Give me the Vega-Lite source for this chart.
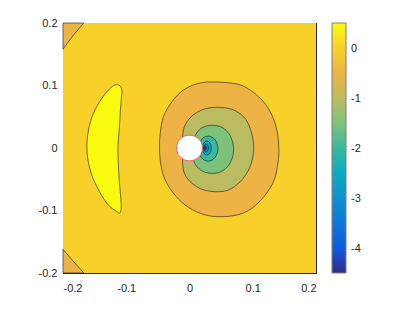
{
  "$schema": "https://vega.github.io/schema/vega-lite/v6.json",
  "width": 253,
  "height": 250,
  "autosize": {"type": "none"},
  "padding": {"left": 63, "top": 23, "right": 95, "bottom": 36},
  "background": "white",
  "config": {
    "view": {"stroke": "#262626", "strokeWidth": 1},
    "font": "Liberation Sans",
    "axis": {"grid": false, "domainColor": "#262626", "tickColor": "#262626", "labelColor": "#262626", "labelFontSize": 11, "labelFont": "Liberation Sans", "title": null},
    "legend": {"labelFont": "Liberation Sans"}
  },
  "datasets": {
    "bg": [
      {"i": 0, "x": -0.2, "y": -0.2, "v": 0},
      {"i": 1, "x": 0.2, "y": -0.2, "v": 0},
      {"i": 2, "x": 0.2, "y": 0.2, "v": 0},
      {"i": 3, "x": -0.2, "y": 0.2, "v": 0}
    ],
    "cornerTop": [
      {"i": 0, "x": -0.2, "y": 0.2, "v": -0.5},
      {"i": 1, "x": -0.167, "y": 0.2, "v": -0.5},
      {"i": 2, "x": -0.184, "y": 0.18, "v": -0.5},
      {"i": 3, "x": -0.2, "y": 0.158, "v": -0.5}
    ],
    "cornerBottom": [
      {"i": 0, "x": -0.2, "y": -0.2, "v": -0.5},
      {"i": 1, "x": -0.2, "y": -0.162, "v": -0.5},
      {"i": 2, "x": -0.184, "y": -0.181, "v": -0.5},
      {"i": 3, "x": -0.167, "y": -0.2, "v": -0.5}
    ],
    "crescent": [
      {"i": 0, "x": -0.1123, "y": 0.1008, "v": 0.5},
      {"i": 1, "x": -0.1069, "y": 0.0928, "v": 0.5},
      {"i": 2, "x": -0.1085, "y": 0.0715, "v": 0.5},
      {"i": 3, "x": -0.1111, "y": 0.0288, "v": 0.5},
      {"i": 4, "x": -0.1132, "y": -0.0032, "v": 0.5},
      {"i": 5, "x": -0.1111, "y": -0.0512, "v": 0.5},
      {"i": 6, "x": -0.108, "y": -0.0885, "v": 0.5},
      {"i": 7, "x": -0.1096, "y": -0.1035, "v": 0.5},
      {"i": 8, "x": -0.1148, "y": -0.1019, "v": 0.5},
      {"i": 9, "x": -0.1306, "y": -0.0885, "v": 0.5},
      {"i": 10, "x": -0.1464, "y": -0.0619, "v": 0.5},
      {"i": 11, "x": -0.157, "y": -0.0352, "v": 0.5},
      {"i": 12, "x": -0.1622, "y": -0.0032, "v": 0.5},
      {"i": 13, "x": -0.1597, "y": 0.0288, "v": 0.5},
      {"i": 14, "x": -0.1518, "y": 0.0555, "v": 0.5},
      {"i": 15, "x": -0.1385, "y": 0.0795, "v": 0.5},
      {"i": 16, "x": -0.1227, "y": 0.0981, "v": 0.5}
    ],
    "orange": [
      {"i": 0, "x": 0.0406, "y": 0.1056, "v": -0.5},
      {"i": 1, "x": 0.0749, "y": 0.1024, "v": -0.5},
      {"i": 2, "x": 0.096, "y": 0.0928, "v": -0.5},
      {"i": 3, "x": 0.117, "y": 0.0741, "v": -0.5},
      {"i": 4, "x": 0.1302, "y": 0.0528, "v": -0.5},
      {"i": 5, "x": 0.1381, "y": 0.0288, "v": -0.5},
      {"i": 6, "x": 0.1413, "y": -0.0005, "v": -0.5},
      {"i": 7, "x": 0.1397, "y": -0.0245, "v": -0.5},
      {"i": 8, "x": 0.1339, "y": -0.0512, "v": -0.5},
      {"i": 9, "x": 0.1197, "y": -0.0752, "v": -0.5},
      {"i": 10, "x": 0.0986, "y": -0.0965, "v": -0.5},
      {"i": 11, "x": 0.0749, "y": -0.1072, "v": -0.5},
      {"i": 12, "x": 0.0433, "y": -0.1099, "v": -0.5},
      {"i": 13, "x": 0.0169, "y": -0.1045, "v": -0.5},
      {"i": 14, "x": -0.0068, "y": -0.0912, "v": -0.5},
      {"i": 15, "x": -0.0253, "y": -0.0725, "v": -0.5},
      {"i": 16, "x": -0.0384, "y": -0.0512, "v": -0.5},
      {"i": 17, "x": -0.0447, "y": -0.0299, "v": -0.5},
      {"i": 18, "x": -0.0474, "y": -0.0032, "v": -0.5},
      {"i": 19, "x": -0.0463, "y": 0.0235, "v": -0.5},
      {"i": 20, "x": -0.0411, "y": 0.0501, "v": -0.5},
      {"i": 21, "x": -0.0278, "y": 0.0741, "v": -0.5},
      {"i": 22, "x": -0.0095, "y": 0.0928, "v": -0.5},
      {"i": 23, "x": 0.0142, "y": 0.1035, "v": -0.5}
    ],
    "olive": [
      {"i": 0, "x": 0.0433, "y": 0.0651, "v": -1},
      {"i": 1, "x": 0.067, "y": 0.0619, "v": -1},
      {"i": 2, "x": 0.0854, "y": 0.0501, "v": -1},
      {"i": 3, "x": 0.096, "y": 0.0315, "v": -1},
      {"i": 4, "x": 0.1012, "y": 0.0075, "v": -1},
      {"i": 5, "x": 0.1002, "y": -0.0139, "v": -1},
      {"i": 6, "x": 0.0933, "y": -0.0352, "v": -1},
      {"i": 7, "x": 0.0802, "y": -0.0539, "v": -1},
      {"i": 8, "x": 0.0617, "y": -0.0672, "v": -1},
      {"i": 9, "x": 0.0406, "y": -0.0699, "v": -1},
      {"i": 10, "x": 0.0196, "y": -0.0661, "v": -1},
      {"i": 11, "x": 0.0038, "y": -0.0565, "v": -1},
      {"i": 12, "x": -0.0068, "y": -0.0432, "v": -1},
      {"i": 13, "x": -0.0104, "y": -0.0299, "v": -1},
      {"i": 14, "x": -0.0111, "y": -0.0139, "v": -1},
      {"i": 15, "x": -0.0111, "y": 0.0075, "v": -1},
      {"i": 16, "x": -0.0104, "y": 0.0235, "v": -1},
      {"i": 17, "x": -0.0068, "y": 0.0368, "v": -1},
      {"i": 18, "x": 0.0038, "y": 0.0512, "v": -1},
      {"i": 19, "x": 0.0221, "y": 0.0619, "v": -1}
    ],
    "green": [
      {"i": 0, "x": 0.0354, "y": 0.0363, "v": -1.5},
      {"i": 1, "x": 0.0512, "y": 0.0331, "v": -1.5},
      {"i": 2, "x": 0.0628, "y": 0.0224, "v": -1.5},
      {"i": 3, "x": 0.0686, "y": 0.0075, "v": -1.5},
      {"i": 4, "x": 0.0696, "y": -0.0032, "v": -1.5},
      {"i": 5, "x": 0.0675, "y": -0.0165, "v": -1.5},
      {"i": 6, "x": 0.0601, "y": -0.0299, "v": -1.5},
      {"i": 7, "x": 0.0485, "y": -0.0384, "v": -1.5},
      {"i": 8, "x": 0.0354, "y": -0.0405, "v": -1.5},
      {"i": 9, "x": 0.0221, "y": -0.0379, "v": -1.5},
      {"i": 10, "x": 0.0117, "y": -0.0299, "v": -1.5},
      {"i": 11, "x": 0.0063, "y": -0.0192, "v": -1.5},
      {"i": 12, "x": 0.0047, "y": -0.0032, "v": -1.5},
      {"i": 13, "x": 0.0063, "y": 0.0128, "v": -1.5},
      {"i": 14, "x": 0.0117, "y": 0.0245, "v": -1.5},
      {"i": 15, "x": 0.0212, "y": 0.0331, "v": -1.5}
    ],
    "teal": [
      {"i": 0, "x": 0.0449, "y": -0.001, "v": -2},
      {"i": 1, "x": 0.0437, "y": 0.0067, "v": -2},
      {"i": 2, "x": 0.0404, "y": 0.0131, "v": -2},
      {"i": 3, "x": 0.0355, "y": 0.0175, "v": -2},
      {"i": 4, "x": 0.0296, "y": 0.019, "v": -2},
      {"i": 5, "x": 0.0237, "y": 0.0175, "v": -2},
      {"i": 6, "x": 0.0188, "y": 0.0131, "v": -2},
      {"i": 7, "x": 0.0155, "y": 0.0067, "v": -2},
      {"i": 8, "x": 0.0143, "y": -0.001, "v": -2},
      {"i": 9, "x": 0.0155, "y": -0.0087, "v": -2},
      {"i": 10, "x": 0.0188, "y": -0.0151, "v": -2},
      {"i": 11, "x": 0.0237, "y": -0.0195, "v": -2},
      {"i": 12, "x": 0.0296, "y": -0.021, "v": -2},
      {"i": 13, "x": 0.0355, "y": -0.0195, "v": -2},
      {"i": 14, "x": 0.0404, "y": -0.0151, "v": -2},
      {"i": 15, "x": 0.0437, "y": -0.0087, "v": -2}
    ],
    "ring25": [
      {"i": 0, "x": 0.0344, "y": 0, "v": -2.5},
      {"i": 1, "x": 0.0335, "y": 0.0056, "v": -2.5},
      {"i": 2, "x": 0.031, "y": 0.0097, "v": -2.5},
      {"i": 3, "x": 0.0275, "y": 0.0112, "v": -2.5},
      {"i": 4, "x": 0.024, "y": 0.0097, "v": -2.5},
      {"i": 5, "x": 0.0215, "y": 0.0056, "v": -2.5},
      {"i": 6, "x": 0.0206, "y": 0, "v": -2.5},
      {"i": 7, "x": 0.0215, "y": -0.0056, "v": -2.5},
      {"i": 8, "x": 0.024, "y": -0.0097, "v": -2.5},
      {"i": 9, "x": 0.0275, "y": -0.0112, "v": -2.5},
      {"i": 10, "x": 0.031, "y": -0.0097, "v": -2.5},
      {"i": 11, "x": 0.0335, "y": -0.0056, "v": -2.5}
    ],
    "ring3": [
      {"i": 0, "x": 0.03, "y": 0, "v": -3},
      {"i": 1, "x": 0.0295, "y": 0.003, "v": -3},
      {"i": 2, "x": 0.028, "y": 0.0052, "v": -3},
      {"i": 3, "x": 0.026, "y": 0.006, "v": -3},
      {"i": 4, "x": 0.024, "y": 0.0052, "v": -3},
      {"i": 5, "x": 0.0225, "y": 0.003, "v": -3},
      {"i": 6, "x": 0.022, "y": 0, "v": -3},
      {"i": 7, "x": 0.0225, "y": -0.003, "v": -3},
      {"i": 8, "x": 0.024, "y": -0.0052, "v": -3},
      {"i": 9, "x": 0.026, "y": -0.006, "v": -3},
      {"i": 10, "x": 0.028, "y": -0.0052, "v": -3},
      {"i": 11, "x": 0.0295, "y": -0.003, "v": -3}
    ],
    "ring35": [
      {"i": 0, "x": 0.027, "y": 0, "v": -3.5},
      {"i": 1, "x": 0.0264, "y": 0.0023, "v": -3.5},
      {"i": 2, "x": 0.025, "y": 0.0032, "v": -3.5},
      {"i": 3, "x": 0.0236, "y": 0.0023, "v": -3.5},
      {"i": 4, "x": 0.023, "y": 0, "v": -3.5},
      {"i": 5, "x": 0.0236, "y": -0.0023, "v": -3.5},
      {"i": 6, "x": 0.025, "y": -0.0032, "v": -3.5},
      {"i": 7, "x": 0.0264, "y": -0.0023, "v": -3.5}
    ],
    "ring4": [
      {"i": 0, "x": 0.0255, "y": 0, "v": -4},
      {"i": 1, "x": 0.0252, "y": 0.0011, "v": -4},
      {"i": 2, "x": 0.0245, "y": 0.0015, "v": -4},
      {"i": 3, "x": 0.0238, "y": 0.0011, "v": -4},
      {"i": 4, "x": 0.0235, "y": 0, "v": -4},
      {"i": 5, "x": 0.0238, "y": -0.0011, "v": -4},
      {"i": 6, "x": 0.0245, "y": -0.0015, "v": -4},
      {"i": 7, "x": 0.0252, "y": -0.0011, "v": -4}
    ],
    "circle": [
      {"i": 0, "x": 0.0205, "y": 0},
      {"i": 1, "x": 0.0198, "y": 0.0053},
      {"i": 2, "x": 0.0178, "y": 0.0103},
      {"i": 3, "x": 0.0145, "y": 0.0145},
      {"i": 4, "x": 0.0103, "y": 0.0178},
      {"i": 5, "x": 0.0053, "y": 0.0198},
      {"i": 6, "x": 0, "y": 0.0205},
      {"i": 7, "x": -0.0053, "y": 0.0198},
      {"i": 8, "x": -0.0103, "y": 0.0178},
      {"i": 9, "x": -0.0145, "y": 0.0145},
      {"i": 10, "x": -0.0178, "y": 0.0103},
      {"i": 11, "x": -0.0198, "y": 0.0053},
      {"i": 12, "x": -0.0205, "y": 0},
      {"i": 13, "x": -0.0198, "y": -0.0053},
      {"i": 14, "x": -0.0178, "y": -0.0103},
      {"i": 15, "x": -0.0145, "y": -0.0145},
      {"i": 16, "x": -0.0103, "y": -0.0178},
      {"i": 17, "x": -0.0053, "y": -0.0198},
      {"i": 18, "x": 0, "y": -0.0205},
      {"i": 19, "x": 0.0053, "y": -0.0198},
      {"i": 20, "x": 0.0103, "y": -0.0178},
      {"i": 21, "x": 0.0145, "y": -0.0145},
      {"i": 22, "x": 0.0178, "y": -0.0103},
      {"i": 23, "x": 0.0198, "y": -0.0053}
    ]
  },
  "layer": [
    {
      "encoding": {
        "x": {"field": "x", "type": "quantitative", "scale": {"domain": [-0.2, 0.2], "nice": false, "zero": false},
              "axis": {"values": [-0.2, -0.1, 0, 0.1, 0.2], "tickSize": -3, "labelPadding": 12, "format": "~g", "labelExpr": "replace(datum.label, '\u2212', '-')", "domain": false}},
        "y": {"field": "y", "type": "quantitative", "scale": {"domain": [-0.2, 0.2], "nice": false, "zero": false},
              "axis": {"values": [-0.2, -0.1, 0, 0.1, 0.2], "tickSize": -3, "labelPadding": 9, "format": "~g", "labelExpr": "replace(datum.label, '\u2212', '-')", "domain": false}},
        "order": {"field": "i", "type": "quantitative"},
        "color": {
          "field": "v", "type": "quantitative",
          "scale": {
            "domain": [-4.49, -4, -3.5, -3, -2.5, -2, -1.5, -1, -0.5, 0, 0.51],
            "range": ["#352A87", "#0F5BDD", "#0D77D9", "#0F92CF", "#0FAABF", "#37B99F", "#7DC27C", "#BBBC62", "#EDB445", "#F8D02A", "#F9FB0E"]
          },
          "legend": {
            "orient": "none", "legendX": 269, "legendY": 0, "direction": "vertical",
            "gradientLength": 250, "gradientThickness": 14, "title": null,
            "values": [-4, -3, -2, -1, 0], "labelFontSize": 11, "labelColor": "#262626",
            "labelExpr": "replace(datum.label, '\u2212', '-')",
            "labelOffset": 5, "gradientStrokeColor": "#7f7f7f", "gradientStrokeWidth": 1
          }
        }
      },
      "layer": [
        {"data": {"name": "bg"}, "mark": {"type": "line", "interpolate": "linear-closed", "filled": true, "strokeWidth": 0}},
        {"data": {"name": "cornerTop"}, "mark": {"type": "line", "interpolate": "linear-closed", "filled": true, "stroke": "#1a1a1a", "strokeWidth": 0.6}},
        {"data": {"name": "cornerBottom"}, "mark": {"type": "line", "interpolate": "linear-closed", "filled": true, "stroke": "#1a1a1a", "strokeWidth": 0.6}},
        {"data": {"name": "crescent"}, "mark": {"type": "line", "interpolate": "cardinal-closed", "filled": true, "stroke": "#1a1a1a", "strokeWidth": 0.6}},
        {"data": {"name": "orange"}, "mark": {"type": "line", "interpolate": "cardinal-closed", "filled": true, "stroke": "#1a1a1a", "strokeWidth": 0.6}},
        {"data": {"name": "olive"}, "mark": {"type": "line", "interpolate": "cardinal-closed", "filled": true, "stroke": "#1a1a1a", "strokeWidth": 0.6}},
        {"data": {"name": "green"}, "mark": {"type": "line", "interpolate": "cardinal-closed", "filled": true, "stroke": "#1a1a1a", "strokeWidth": 0.6}},
        {"data": {"name": "teal"}, "mark": {"type": "line", "interpolate": "cardinal-closed", "filled": true, "stroke": "#1a1a1a", "strokeWidth": 0.6}},
        {"data": {"name": "ring25"}, "mark": {"type": "line", "interpolate": "cardinal-closed", "filled": true, "stroke": "#1a1a1a", "strokeWidth": 0.6}},
        {"data": {"name": "ring3"}, "mark": {"type": "line", "interpolate": "cardinal-closed", "filled": true, "stroke": "#1a1a1a", "strokeWidth": 0.6}},
        {"data": {"name": "ring35"}, "mark": {"type": "line", "interpolate": "cardinal-closed", "filled": true, "stroke": "#1a1a1a", "strokeWidth": 0.6}},
        {"data": {"name": "ring4"}, "mark": {"type": "line", "interpolate": "cardinal-closed", "filled": true, "stroke": "#1a1a1a", "strokeWidth": 0.6}}
      ]
    },
    {
      "data": {"name": "circle"},
      "mark": {"type": "line", "interpolate": "cardinal-closed", "fill": "white", "stroke": "#F05F5F", "strokeWidth": 1},
      "encoding": {
        "x": {"field": "x", "type": "quantitative", "scale": {"domain": [-0.2, 0.2], "nice": false, "zero": false},
              "axis": {"orient": "top", "values": [-0.2, -0.1, 0, 0.1, 0.2], "tickSize": -3, "labels": false, "domain": false}},
        "y": {"field": "y", "type": "quantitative", "scale": {"domain": [-0.2, 0.2], "nice": false, "zero": false},
              "axis": {"orient": "right", "values": [-0.2, -0.1, 0, 0.1, 0.2], "tickSize": -3, "labels": false, "domain": false}},
        "order": {"field": "i", "type": "quantitative"}
      }
    }
  ],
  "resolve": {"axis": {"x": "independent", "y": "independent"}}
}
